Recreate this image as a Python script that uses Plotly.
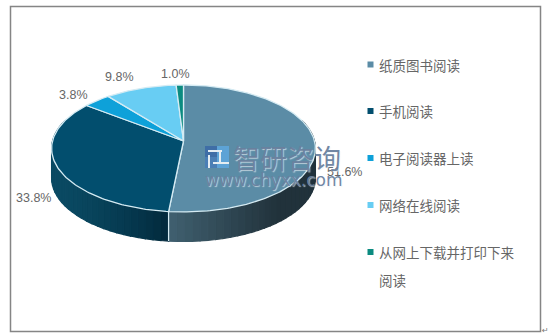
import math
import plotly.graph_objects as go

categories = ["纸质图书阅读", "手机阅读", "电子阅读器上读", "网络在线阅读", "从网上下载并打印下来<br>阅读"]
values = [51.6, 33.8, 3.8, 9.8, 1.0]
value_labels = ["51.6%", "33.8%", "3.8%", "9.8%", "1.0%"]
colors = ["#5b8ca6", "#024e6e", "#0ea1d9", "#68cdf3", "#0b8b80"]
side_left = [(64, 96, 112), (10, 74, 99), (10, 74, 99), (10, 74, 99), (10, 74, 99)]
side_right = [(33, 50, 59), (2, 41, 60), (2, 41, 60), (2, 41, 60), (2, 41, 60)]

CX, CY = 183.5, 141.0
SX, SY, K = 131.0, 62.6, 0.118
DEPTH = 29.5
EDGE = "#d5ebf3"


def pt(deg):
    a = math.radians(deg)
    u, v = math.sin(a), math.cos(a)
    w = 1 + K * v
    return CX + SX * u / w, CY - SY * v / w


fig = go.Figure()
total = sum(values)
bounds = [0.0]
for val in values:
    bounds.append(bounds[-1] + val / total * 360)


def poly(xs, ys, fill, line=None, width=0):
    fig.add_trace(go.Scatter(x=xs, y=ys, mode="lines", fill="toself", fillcolor=fill,
                             line=dict(color=line or fill, width=width if line else 1.2),
                             hoverinfo="skip", showlegend=False))


# side wall, strips with a horizontal gradient
for i in range(len(values)):
    a0, a1 = max(bounds[i], 70), min(bounds[i + 1], 290)
    if a1 <= a0:
        continue
    n = max(2, int((a1 - a0) / 3))
    for j in range(n):
        s0 = a0 + (a1 - a0) * j / n
        s1 = a0 + (a1 - a0) * (j + 1) / n
        xmid = pt((s0 + s1) / 2)[0]
        if i == 0:
            g = min(1.0, max(0.0, (xmid - 168) / 110))
        else:
            g = min(1.0, max(0.0, (xmid - 52) / 116)) ** 1.5
        c = tuple(round(side_left[i][k] + (side_right[i][k] - side_left[i][k]) * g) for k in range(3))
        p0, p1 = pt(s0), pt(s1)
        poly([p0[0], p1[0], p1[0], p0[0], p0[0]],
             [p0[1], p1[1], p1[1] + DEPTH, p0[1] + DEPTH, p0[1]],
             "rgb(%d,%d,%d)" % c)

# seam on the wall
sx_, sy_ = pt(bounds[1])
fig.add_trace(go.Scatter(x=[sx_, sx_], y=[sy_, sy_ + DEPTH], mode="lines",
                         line=dict(color=EDGE, width=1.3), hoverinfo="skip", showlegend=False))

# top face
for i in range(len(values)):
    n = max(4, int(bounds[i + 1] - bounds[i]))
    pts = [pt(bounds[i] + (bounds[i + 1] - bounds[i]) * j / n) for j in range(n + 1)]
    xs = [CX] + [p[0] for p in pts] + [CX]
    ys = [CY] + [p[1] for p in pts] + [CY]
    poly(xs, ys, colors[i], EDGE, 1.3)

# legend squares
leg_y = [64.5, 111, 158, 205, 252]
leg_x = 370.5
for c, y in zip(colors, leg_y):
    fig.add_trace(go.Scatter(x=[leg_x], y=[y], mode="markers",
                             marker=dict(symbol="square", size=6, color=c),
                             hoverinfo="skip", showlegend=False))

TXT = "#666666"
CJK = "Noto Sans CJK SC"
ann = []
for name, y in zip(categories, leg_y):
    parts = name.split("<br>")
    for k, part in enumerate(parts):
        ann.append(dict(x=377, y=y + 28 * k, text=part, xanchor="left", yanchor="middle", showarrow=False,
                        font=dict(family=CJK, size=13.5, color=TXT)))

lab_pos = [(344, 172), (33, 198), (73, 95), (119, 77), (175, 74)]
for t, (x, y) in zip(value_labels, lab_pos):
    ann.append(dict(x=x, y=y, text=t, xanchor="center", yanchor="middle", showarrow=False,
                    font=dict(family="Liberation Sans", size=12.5, color=TXT)))

WM = "rgba(105,128,158,0.95)"
HALO = "1px 1px 1px rgba(235,240,245,0.7)"
ann.append(dict(x=287, y=157, text="智研咨询", xanchor="center", yanchor="middle", showarrow=False,
                font=dict(family=CJK, size=27, color=WM, shadow=HALO)))
ann.append(dict(x=274, y=180, text="www.chyxx.com", xanchor="center", yanchor="middle", showarrow=False,
                font=dict(family="DejaVu Sans", size=17, color=WM, shadow=HALO)))
ann.append(dict(x=545, y=330, text="↵", xanchor="center", yanchor="middle", showarrow=False,
                font=dict(family="DejaVu Sans", size=8, color="#777777")))

shapes = [
    dict(type="rect", x0=10.5, x1=540.5, y0=6.5, y1=331.5, line=dict(color="#858585", width=1.5), layer="below"),
    dict(type="rect", x0=205, x1=217, y0=146, y1=157, fillcolor="#3f6ea6", line=dict(width=0), layer="above"),
    dict(type="rect", x0=205, x1=217, y0=157, y1=168, fillcolor="#4a7fb5", line=dict(width=0), layer="above"),
    dict(type="rect", x0=217, x1=229, y0=146, y1=168, fillcolor="#5da3d6", line=dict(width=0), layer="above"),
    dict(type="line", x0=208, x1=222, y0=151, y1=151, line=dict(color="#e4edf2", width=2), layer="above"),
    dict(type="line", x0=220, x1=220, y0=151, y1=162, line=dict(color="#e4edf2", width=2), layer="above"),
    dict(type="line", x0=209, x1=209, y0=155, y1=168, line=dict(color="#e4edf2", width=2), layer="above"),
    dict(type="line", x0=213, x1=229, y0=163, y1=163, line=dict(color="#e4edf2", width=2), layer="above"),
]

fig.update_layout(
    width=548, height=335, margin=dict(l=0, r=0, t=0, b=0),
    paper_bgcolor="white", plot_bgcolor="white", showlegend=False,
    xaxis=dict(range=[0, 548], visible=False, fixedrange=True),
    yaxis=dict(range=[335, 0], visible=False, fixedrange=True),
    annotations=ann, shapes=shapes,
)
fig.write_html("out.html", config=dict(displayModeBar=False),
               post_script="document.body.style.margin='0';document.body.style.overflow='hidden';")
